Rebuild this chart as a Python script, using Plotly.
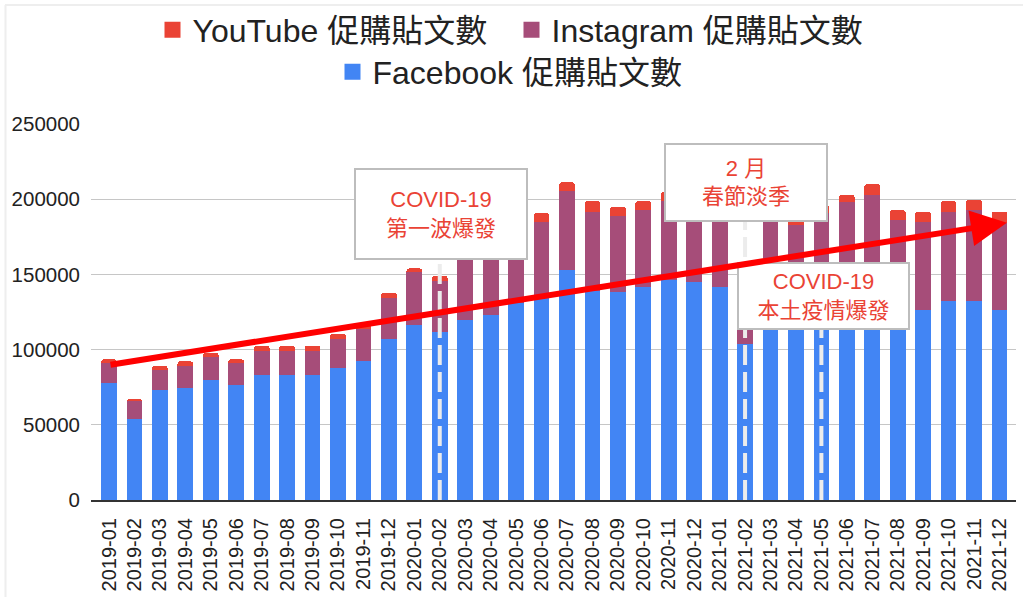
import plotly.graph_objects as go

months = [
    "2019-01", "2019-02", "2019-03", "2019-04", "2019-05", "2019-06",
    "2019-07", "2019-08", "2019-09", "2019-10", "2019-11", "2019-12",
    "2020-01", "2020-02", "2020-03", "2020-04", "2020-05", "2020-06",
    "2020-07", "2020-08", "2020-09", "2020-10", "2020-11", "2020-12",
    "2021-01", "2021-02", "2021-03", "2021-04", "2021-05", "2021-06",
    "2021-07", "2021-08", "2021-09", "2021-10", "2021-11", "2021-12",
]
facebook = [
    77600, 53700, 73100, 74300, 79800, 76500,
    83300, 83300, 83300, 87800, 92400, 107000,
    116400, 111900, 119700, 123000, 130800, 134100,
    152900, 139000, 138100, 141400, 146300, 145200,
    141800, 103700, 125000, 120000, 118000, 122000,
    128000, 121000, 126300, 132300, 132300, 126300,
]
instagram = [
    13700, 12300, 13300, 14800, 15100, 14800,
    15800, 15800, 15800, 19200, 21100, 27500,
    35400, 33900, 40300, 43000, 41200, 50900,
    52600, 52700, 50900, 51400, 52700, 48800,
    48200, 19300, 60000, 62800, 73000, 76300,
    74800, 65200, 58700, 59400, 60500, 57700,
]
youtube = [
    2200, 500, 2700, 3100, 3000, 2200,
    3500, 3500, 3500, 3400, 2500, 3300,
    2200, 3300, 4000, 4000, 4000, 5600,
    5700, 7100, 6000, 6000, 6000, 6000,
    6000, 2000, 5000, 4200, 5000, 4500,
    7300, 6600, 6700, 7100, 6700, 7700,
]
y_ticks = [0, 50000, 100000, 150000, 200000, 250000]

series_names = ["Facebook 促購貼文數", "Instagram 促購貼文數", "YouTube 促購貼文數"]
colors = ["#4285f4", "#a64d79", "#ea4335"]

# annotation boxes: (month, y value, text, width, height, xshift)
notes = [
    ("2020-02", 190200, "COVID-19<br>第一波爆發", 170, 88, 1),
    ("2021-02", 211100, "2 月<br>春節淡季", 160, 75, 1),
    ("2021-05", 135600, "COVID-19<br>本土疫情爆發", 169, 64, 2),
]
# trend arrow: tail (index, value) -> head (index, value)
arrow_tail = (0.0, 89800)
arrow_head = (35.29, 184400)

FONT = "Liberation Sans, Arial, 'Noto Sans CJK TC', sans-serif"
W, H = 1023, 597
ML, MR, MT, MB = 91, 7, 124, 97
PW, PH = W - ML - MR, H - MT - MB

fig = go.Figure()
for vals, name, col in zip([facebook, instagram, youtube], series_names, colors):
    fig.add_trace(go.Bar(x=months, y=vals, name=name, marker_color=col,
                         marker_line_width=0, showlegend=False))

# legend proxies (bigger square symbols), one legend per entry for placement
legend_map = {series_names[2]: "legend", series_names[1]: "legend3",
              series_names[0]: "legend2"}
for name, col in [(series_names[2], colors[2]), (series_names[1], colors[1]),
                  (series_names[0], colors[0])]:
    fig.add_trace(go.Scatter(x=[None], y=[None], mode="markers", name=name,
                             marker=dict(symbol="square", size=16, color=col),
                             legend=legend_map[name], showlegend=True))

shapes = []
annotations = []
for m, yv, txt, w, h, xs in notes:
    idx = months.index(m)
    shapes.append(dict(type="line", xref="x", yref="y", x0=idx, x1=idx, y0=0, y1=yv,
                       line=dict(color="#ececec", width=4, dash="20px,7px"), layer="above"))
    annotations.append(dict(x=idx, y=yv, xref="x", yref="y", text=txt, showarrow=False,
                            xshift=xs, width=w, height=h, bgcolor="white",
                            bordercolor="#bdbdbd", borderwidth=2, borderpad=0,
                            align="center", valign="middle",
                            font=dict(size=22, color="#ea4335", family=FONT)))

annotations.append(dict(x=arrow_head[0], y=arrow_head[1], xref="x", yref="y",
                        ax=arrow_tail[0], ay=arrow_tail[1], axref="x", ayref="y",
                        text="", showarrow=True, arrowhead=2, arrowsize=1.2,
                        arrowwidth=6, arrowcolor="#ff0000", standoff=0))

# faint frame lines at the top and left edge of the picture
px = lambda p: (p - ML) / PW
py = lambda p: (H - MB - p) / PH
shapes.append(dict(type="line", xref="paper", yref="paper", x0=px(5), x1=px(W),
                   y0=py(5), y1=py(5), line=dict(color="#eeeeee", width=2), layer="below"))
shapes.append(dict(type="line", xref="paper", yref="paper", x0=px(5.5), x1=px(5.5),
                   y0=py(5), y1=py(H), line=dict(color="#eeeeee", width=2), layer="below"))

leg_font = dict(size=32, color="#222222", family=FONT)
common = dict(orientation="h", xref="container", yref="container", xanchor="center",
              yanchor="middle", font=leg_font, itemsizing="trace", bgcolor="rgba(0,0,0,0)")

fig.update_layout(
    width=W, height=H,
    margin=dict(l=ML, r=MR, t=MT, b=MB),
    paper_bgcolor="white", plot_bgcolor="white",
    barmode="stack", bargap=0.38, barcornerradius=3,
    font=dict(family=FONT, color="#222222"),
    shapes=shapes, annotations=annotations,
    legend=dict(x=322.5 / W, y=1 - 30 / H, **common),
    legend3=dict(x=690 / W, y=1 - 30 / H, **common),
    legend2=dict(x=510 / W, y=1 - 72 / H, **common),
)
fig.update_xaxes(type="category", range=[-0.708, 35.649], tickangle=-90,
                 tickfont=dict(size=20, color="#222222"), showgrid=False,
                 showline=True, linecolor="#333333", linewidth=2,
                 ticks="", ticklabelstandoff=8)
fig.update_yaxes(range=[0, 250000], tickvals=y_ticks, ticktext=[str(v) for v in y_ticks],
                 tickfont=dict(size=20.5, color="#222222"), showgrid=True,
                 gridcolor="#c6c6c6", gridwidth=1.3, zeroline=False,
                 ticks="", ticklabelstandoff=10)

fig.write_html("out.html", config={"displayModeBar": False},
               post_script="document.body.style.margin='0';document.body.style.overflow='hidden';")
